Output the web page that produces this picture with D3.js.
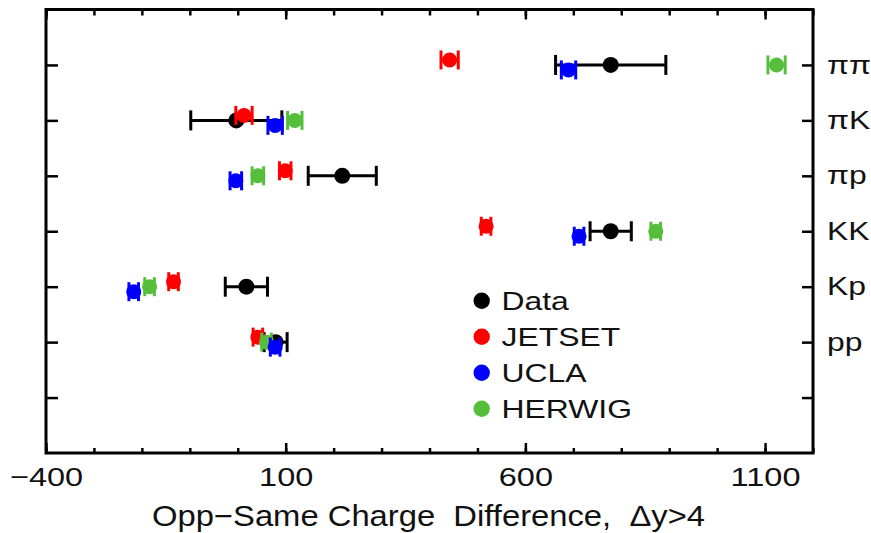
<!DOCTYPE html>
<html>
<head>
<meta charset="utf-8">
<script src="https://cdn.jsdelivr.net/npm/d3@7"></script>
<style>
  body { margin: 0; background: #fff; }
  text { font-family: "Liberation Sans", Arial, sans-serif; }
</style>
</head>
<body>
<div id="chart"></div>
<script>
//DATA
const categories = ["ππ", "πK", "πp", "KK", "Kp", "pp"];
const dataVal = [778, -3, 218, 778, 18, 79];
const dataErr = [115, 95, 71, 43, 44, 24];
const jetsetVal = [442, 13, 99, 518, -134, 42];
const jetsetErr = [18, 17, 12, 10, 10, 10];
const uclaVal = [690, 78, -4, 712, -217, 78];
const uclaErr = [15, 15, 12, 10, 10, 10];
const herwigVal = [1124, 119, 42, 872, -184, 60];
const herwigErr = [18, 15, 12, 10, 10, 10];
const xMajor = [-400, 100, 600, 1100];
const xMinor = d3.range(-400, 1201, 100);
const legendNames = ["Data", "JETSET", "UCLA", "HERWIG"];

//DIMENSIONS
const WIDTH = 871, HEIGHT = 533;
const STRETCH = 1.25; // text in the picture is wider than the font

const svg = d3.select("#chart").append("svg")
  .attr("width", WIDTH)
  .attr("height", HEIGHT);

const xScale = d3.scaleLinear().domain([-400, 1200]).range([46, 813]);
const yScale = d3.scaleLinear().domain([0, 8]).range([9.5, 453]);
const yTicks = d3.range(1, 8);

function styleAxis(g) {
  g.select(".domain").remove();
  g.attr("font-family", null).attr("font-size", null);
  g.selectAll(".tick line").attr("stroke-width", 2.5);
}

//Bottom axis
svg.append("g")
  .attr("transform", `translate(0,${yScale(8)})`)
  .call(d3.axisBottom(xScale).tickValues(xMinor).tickSize(-5).tickFormat(""))
  .call(styleAxis);
svg.append("g")
  .attr("transform", `translate(0,${yScale(8)})`)
  .call(d3.axisBottom(xScale).tickValues(xMajor).tickSize(-10).tickPadding(15).tickFormat(d3.format("d")))
  .call(styleAxis)
  .call((g) => g.selectAll("text")
    .style("font-size", "26px")
    .attr("fill", "#111")
    .attr("transform", `scale(${STRETCH},1)`));

//Top axis
svg.append("g")
  .attr("transform", `translate(0,${yScale(0)})`)
  .call(d3.axisTop(xScale).tickValues(xMinor).tickSize(-6).tickFormat(""))
  .call(styleAxis);
svg.append("g")
  .attr("transform", `translate(0,${yScale(0)})`)
  .call(d3.axisTop(xScale).tickValues(xMajor).tickSize(-10).tickFormat(""))
  .call(styleAxis);

//Left axis
svg.append("g")
  .attr("transform", `translate(${xScale(-400)},0)`)
  .call(d3.axisLeft(yScale).tickValues(yTicks).tickSize(-12).tickFormat(""))
  .call(styleAxis);

//Right axis with labels
svg.append("g")
  .attr("transform", `translate(${xScale(1200)},0)`)
  .call(d3.axisRight(yScale).tickValues(yTicks).tickSize(-11).tickPadding(14)
    .tickFormat((d) => categories[d - 1] || ""))
  .call(styleAxis)
  .call((g) => g.selectAll("text")
    .style("font-size", "25.5px")
    .attr("fill", "#111")
    .attr("x", 14 / STRETCH)
    .attr("transform", `scale(${STRETCH},1)`));

//Frame
svg.append("rect")
  .attr("x", xScale(-400))
  .attr("y", yScale(0))
  .attr("width", xScale(1200) - xScale(-400))
  .attr("height", yScale(8) - yScale(0))
  .attr("fill", "none")
  .attr("stroke", "black")
  .attr("stroke-width", 3);

//Points with error bars
function drawSeries(vals, errs, color, offset, r, capH) {
  const rows = vals.map((v, i) => ({ v: v, e: errs[i], y: yScale(i + 1) + offset }));
  const g = svg.append("g").attr("stroke", color).attr("fill", color);
  g.selectAll(".bar").data(rows).enter().append("line")
    .attr("x1", (d) => xScale(d.v - d.e))
    .attr("x2", (d) => xScale(d.v + d.e))
    .attr("y1", (d) => d.y)
    .attr("y2", (d) => d.y)
    .attr("stroke-width", 3);
  [-1, 1].forEach((s) => {
    g.selectAll(".cap" + s).data(rows).enter().append("line")
      .attr("x1", (d) => xScale(d.v + s * d.e))
      .attr("x2", (d) => xScale(d.v + s * d.e))
      .attr("y1", (d) => d.y - capH)
      .attr("y2", (d) => d.y + capH)
      .attr("stroke-width", 3);
  });
  g.selectAll("circle").data(rows).enter().append("circle")
    .attr("cx", (d) => xScale(d.v))
    .attr("cy", (d) => d.y)
    .attr("r", r)
    .attr("stroke", "none");
}

const colors = ["#000000", "#ff0000", "#0000ff", "#55bf3b"];
drawSeries(dataVal, dataErr, colors[0], 0, 8, 10);
drawSeries(jetsetVal, jetsetErr, colors[1], -5, 7.5, 9.5);
drawSeries(herwigVal, herwigErr, colors[3], 0, 7.5, 9.5);
drawSeries(uclaVal, uclaErr, colors[2], 5, 7.5, 9.5);

//Legend
const legend = svg.append("g");
legendNames.forEach((name, i) => {
  const cy = 300.7 + i * 36;
  legend.append("circle")
    .attr("cx", 481.7).attr("cy", cy).attr("r", 8.2)
    .attr("fill", colors[i]);
  legend.append("text")
    .attr("transform", `translate(501.5,${cy + 9.3}) scale(${STRETCH},1)`)
    .style("font-size", "25.5px")
    .attr("fill", "#111")
    .text(name);
});

//X title
svg.append("text")
  .attr("x", 152)
  .attr("y", 526)
  .attr("textLength", 553)
  .attr("lengthAdjust", "spacingAndGlyphs")
  .style("font-size", "29px")
  .style("white-space", "pre")
  .attr("fill", "#111")
  .text("Opp\u2212Same Charge  Difference,  \u0394y>4");
</script>
</body>
</html>
